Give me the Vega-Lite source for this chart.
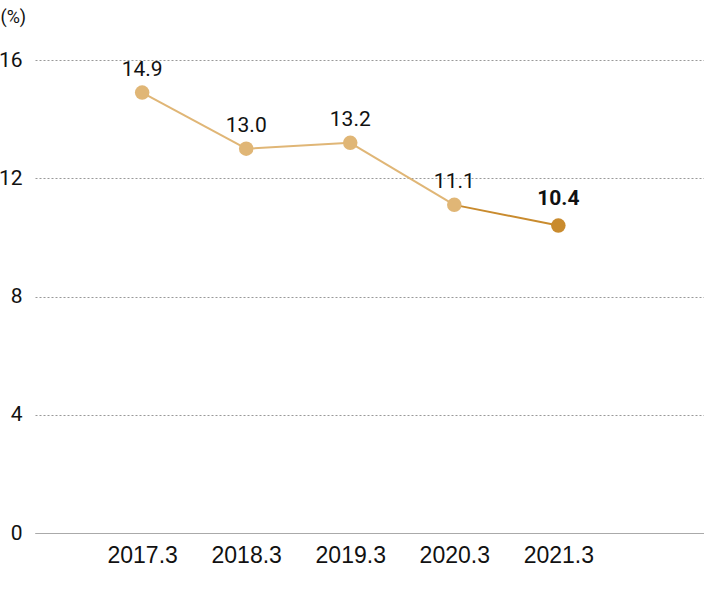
{
  "$schema": "https://vega.github.io/schema/vega-lite/v6.json",
  "width": 669,
  "height": 473,
  "autosize": {"type": "none"},
  "padding": {"left": 35, "top": 60, "right": 0, "bottom": 64},
  "background": "white",
  "config": {
    "view": {"stroke": null},
    "font": "Roboto",
    "axis": {"labelFont": "Roboto", "titleFont": "Roboto"}
  },
  "data": {
    "values": [
      {"period": 2017.3, "value": 14.9, "latest": false},
      {"period": 2018.3, "value": 13.0, "latest": false},
      {"period": 2019.3, "value": 13.2, "latest": false},
      {"period": 2020.3, "value": 11.1, "latest": false},
      {"period": 2021.3, "value": 10.4, "latest": true}
    ]
  },
  "encoding": {
    "x": {
      "field": "period",
      "type": "quantitative",
      "scale": {"domain": [2016.27, 2022.7], "nice": false, "zero": false},
      "axis": {
        "values": [2017.3, 2018.3, 2019.3, 2020.3, 2021.3],
        "format": ".1f",
        "title": null,
        "grid": false,
        "ticks": false,
        "domain": true,
        "domainColor": "#aaaaaa",
        "domainWidth": 1,
        "labelFont": "Liberation Sans",
        "labelFontSize": 23,
        "labelColor": "#111111",
        "labelPadding": 11
      }
    },
    "y": {
      "field": "value",
      "type": "quantitative",
      "scale": {"domain": [0, 16], "nice": false},
      "axis": {
        "values": [0, 4, 8, 12, 16],
        "title": "(%)",
        "titleAngle": 0,
        "titleAlign": "left",
        "titleBaseline": "middle",
        "titleX": -35,
        "titleY": -43,
        "titleFontSize": 18,
        "titleFontWeight": "normal",
        "titleColor": "#111111",
        "domain": false,
        "ticks": false,
        "grid": true,
        "gridDash": [2, 2],
        "gridColor": "#999999",
        "labelFontSize": 21,
        "labelColor": "#111111",
        "labelPadding": 13
      }
    }
  },
  "layer": [
    {
      "transform": [
        {"window": [{"op": "lead", "field": "value", "as": "nextValue"}, {"op": "lead", "field": "period", "as": "nextPeriod"}, {"op": "lead", "field": "latest", "as": "nextLatest"}], "sort": [{"field": "period"}]},
        {"filter": "datum.nextPeriod != null"}
      ],
      "mark": {"type": "rule", "strokeWidth": 2},
      "encoding": {
        "x2": {"field": "nextPeriod"},
        "y2": {"field": "nextValue"},
        "color": {
          "field": "nextLatest",
          "type": "nominal",
          "scale": {"domain": [false, true], "range": ["#e0b676", "#c98b2e"]},
          "legend": null
        }
      }
    },
    {
      "mark": {"type": "circle", "size": 210, "opacity": 1},
      "encoding": {
        "color": {
          "field": "latest",
          "type": "nominal",
          "scale": {"domain": [false, true], "range": ["#e0b676", "#c98b2e"]},
          "legend": null
        }
      }
    },
    {
      "transform": [{"filter": "!datum.latest"}],
      "mark": {"type": "text", "dy": -23, "fontSize": 21, "baseline": "middle", "color": "#111111"},
      "encoding": {
        "text": {"field": "value", "type": "quantitative", "format": ".1f"}
      }
    },
    {
      "transform": [{"filter": "datum.latest"}],
      "mark": {"type": "text", "dy": -27, "fontSize": 21, "fontWeight": "bold", "baseline": "middle", "color": "#111111"},
      "encoding": {
        "text": {"field": "value", "type": "quantitative", "format": ".1f"}
      }
    }
  ]
}
